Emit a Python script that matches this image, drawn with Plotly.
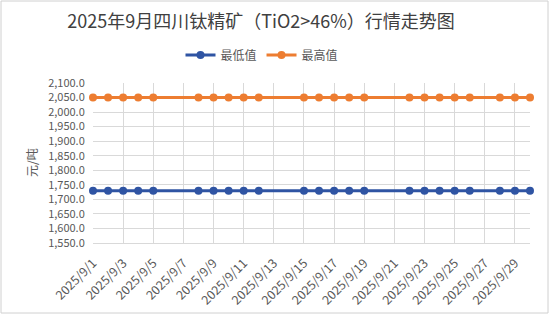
import plotly.graph_objects as go

# Trading days in September 2025 and the daily quotes (元/吨)
dates = ["2025-09-01", "2025-09-02", "2025-09-03", "2025-09-04", "2025-09-05",
         "2025-09-08", "2025-09-09", "2025-09-10", "2025-09-11", "2025-09-12",
         "2025-09-15", "2025-09-16", "2025-09-17", "2025-09-18", "2025-09-19",
         "2025-09-22", "2025-09-23", "2025-09-24", "2025-09-25", "2025-09-26",
         "2025-09-28", "2025-09-29", "2025-09-30"]
low_values = [1730] * 5 + [1730] * 5 + [1730] * 5 + [1730] * 5 + [1730] * 3
high_values = [2050] * 5 + [2050] * 5 + [2050] * 5 + [2050] * 5 + [2050] * 3

tick_dates = ["2025-09-%02d" % d for d in range(1, 30, 2)]
tick_labels = ["2025/9/%d" % d for d in range(1, 30, 2)]

BLUE = "#2F54A3"
ORANGE = "#ED7D31"
FONT = "Noto Sans CJK SC"

# plot area in pixels
W, H = 553, 324
L, R, T, B = 93, 23, 83, 81
pw, ph = W - L - R, H - T - B


def px_x(x):
    return (x - L) / pw


def px_y(y):
    return (H - B - y) / ph


fig = go.Figure()
fig.add_trace(go.Scatter(
    x=dates, y=low_values, name="最低值", mode="lines+markers",
    line=dict(color=BLUE, width=3), marker=dict(size=8, color=BLUE),
    cliponaxis=False))
fig.add_trace(go.Scatter(
    x=dates, y=high_values, name="最高值", mode="lines+markers",
    line=dict(color=ORANGE, width=3), marker=dict(size=8, color=ORANGE),
    cliponaxis=False))

fig.update_layout(
    width=W, height=H,
    margin=dict(l=L, r=R, t=T, b=B),
    paper_bgcolor="white", plot_bgcolor="white",
    font=dict(family=FONT, color="#595959", size=11),
    title=dict(text="2025年9月四川钛精矿（TiO2>46%）行情走势图",
               x=261 / W, xref="container", xanchor="center",
               y=1 - 22 / H, yref="container", yanchor="middle",
               font=dict(family=FONT, size=18, color="#404040")),
    showlegend=True,
    legend=dict(orientation="h", x=px_x(262), xanchor="center",
                y=px_y(55), yanchor="middle",
                font=dict(family=FONT, size=12, color="#595959"),
                itemwidth=30, bgcolor="rgba(0,0,0,0)"),
    xaxis=dict(
        type="date",
        range=["2025-09-01", "2025-09-30"],
        tickvals=tick_dates, ticktext=tick_labels,
        tickangle=-45,
        tickfont=dict(family=FONT, size=12.5, color="#595959"),
        showgrid=True, gridcolor="#D9D9D9", gridwidth=1,
        showline=True, linecolor="#D9D9D9", linewidth=1,
        ticks="outside", ticklen=7, tickcolor="rgba(0,0,0,0)",
        zeroline=False,
    ),
    yaxis=dict(
        range=[1550, 2100], dtick=50, tick0=1550,
        tickformat=",.1f",
        tickfont=dict(family=FONT, size=11, color="#595959"),
        showgrid=True, gridcolor="#D9D9D9", gridwidth=1,
        showline=False, zeroline=False,
        ticks="outside", ticklen=5, tickcolor="rgba(0,0,0,0)",
    ),
    annotations=[dict(
        text="元/吨", textangle=-90, showarrow=False,
        xref="paper", yref="paper", x=px_x(31), y=px_y(163),
        xanchor="center", yanchor="middle",
        font=dict(family=FONT, size=12, color="#595959"))],
    shapes=[dict(
        type="rect", xref="paper", yref="paper",
        x0=px_x(1), x1=px_x(548), y0=px_y(313), y1=px_y(1),
        line=dict(color="#D0D0D0", width=1), fillcolor="rgba(0,0,0,0)",
        layer="below")],
)

fig.write_html("out.html")
